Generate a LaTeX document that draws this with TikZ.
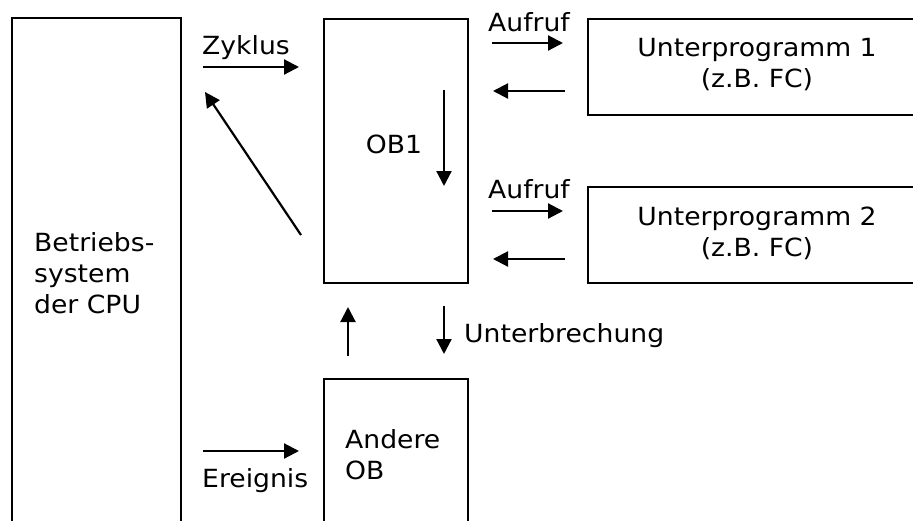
\documentclass[tikz,border=0pt]{standalone}
\usepackage{fontspec}
\setmainfont{DejaVu Sans}[FakeStretch=1.065]
\usetikzlibrary{arrows.meta,positioning}

\begin{document}
\begin{tikzpicture}[x=1pt,y=-1pt,
    box/.style={draw, line width=2.2pt, inner sep=0pt},
    txt/.style={font=\fontsize{25}{31}\selectfont, inner sep=0pt},
    flow/.style={line width=2.2pt, -{Triangle[length=15pt,width=15pt]}}]
  \useasboundingbox (0,0) rectangle (913,520);

  % blocks (the outer ones run past the page edge)
  \node[box, minimum width=169pt, minimum height=512pt] (cpu) at (96.5,274) {};
  \node[box, minimum width=144pt, minimum height=264pt] (ob1) at (396,151) {};
  \node[box, minimum width=144pt, minimum height=151pt] (other) at (396,454.5) {};
  \node[box, minimum width=342pt, minimum height=96pt] (sub1) at (759,67) {};
  \node[box, minimum width=342pt, minimum height=96pt] (sub2) at (759,235) {};

  % block texts
  \node[txt, align=left, anchor=west] (cpu-text) at (34,273.5) {Betriebs-\\system\\der CPU};
  \node[txt, anchor=base] (ob1-text) at (394,153) {OB1};
  \node[txt, align=left, anchor=west] (other-text) at (345,454.5) {Andere\\OB};
  \node[txt, align=center] (sub1-text) at (757,65) {Unterprogramm 1\\(z.B. FC)};
  \node[txt, align=center] (sub2-text) at (757,233) {Unterprogramm 2\\(z.B. FC)};

  % arrow labels
  \node[txt, anchor=base west] (zyklus) at (202,54) {Zyklus};
  \node[txt, anchor=base west] (ereignis) at (202,487) {Ereignis};
  \node[txt, anchor=base west] (call1) at (488,31) {Aufruf};
  \node[txt, anchor=base west] (call2) at (488,198) {Aufruf};
  \node[txt, anchor=base west] (irq) at (464,342) {Unterbrechung};

  % arrow end points
  \coordinate (cyc-a) at (203,67);   \coordinate (cyc-b) at (299,67);
  \coordinate (ret-a) at (301,235);  \coordinate (ret-b) at (205,92);
  \coordinate (run-a) at (444,90);   \coordinate (run-b) at (444,186);
  \coordinate (c1-a) at (492,43);    \coordinate (c1-b) at (563,43);
  \coordinate (r1-a) at (565,91);    \coordinate (r1-b) at (493,91);
  \coordinate (c2-a) at (492,211);   \coordinate (c2-b) at (563,211);
  \coordinate (r2-a) at (565,259);   \coordinate (r2-b) at (493,259);
  \coordinate (up-a) at (348,356);   \coordinate (up-b) at (348,307);
  \coordinate (dn-a) at (444,306);   \coordinate (dn-b) at (444,354);
  \coordinate (ev-a) at (203,451);   \coordinate (ev-b) at (299,451);

  % arrows
  \draw[flow] (cyc-a) -- (cyc-b);
  \draw[flow] (ret-a) -- (ret-b);
  \draw[flow] (run-a) -- (run-b);
  \draw[flow] (c1-a) -- (c1-b);
  \draw[flow] (r1-a) -- (r1-b);
  \draw[flow] (c2-a) -- (c2-b);
  \draw[flow] (r2-a) -- (r2-b);
  \draw[flow] (up-a) -- (up-b);
  \draw[flow] (dn-a) -- (dn-b);
  \draw[flow] (ev-a) -- (ev-b);
\end{tikzpicture}
\end{document}
